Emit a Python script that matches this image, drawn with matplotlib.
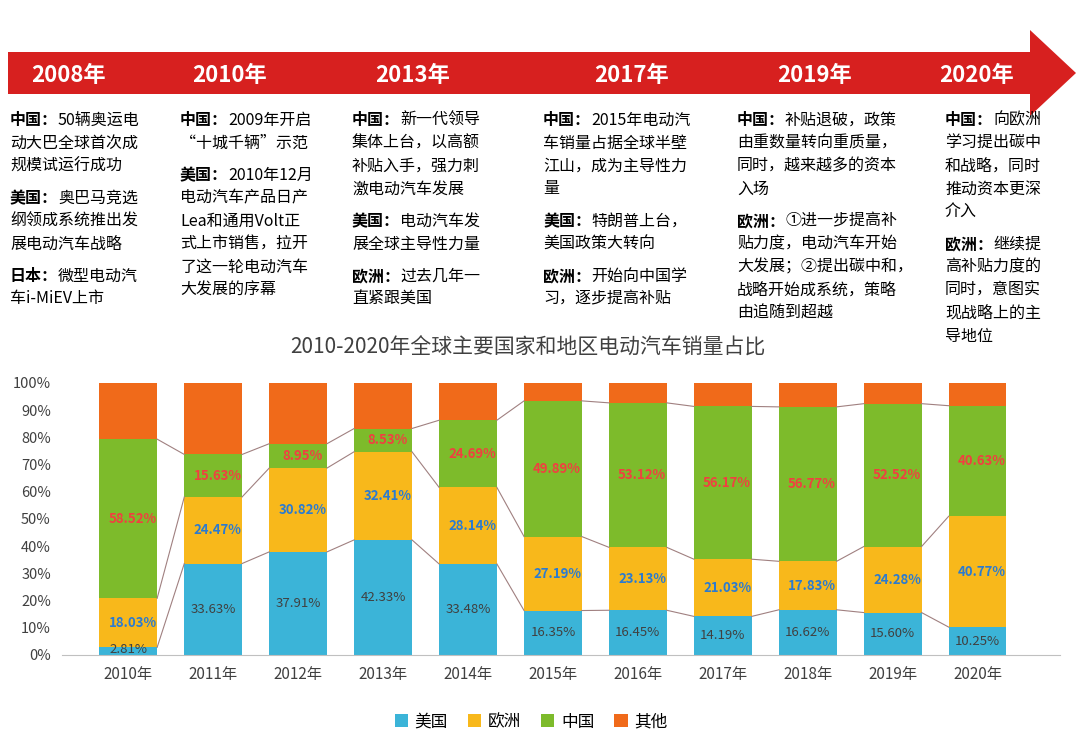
import matplotlib
matplotlib.use("Agg")
import matplotlib.pyplot as plt
from matplotlib.patches import Polygon
import numpy as np

plt.rcParams['font.family'] = ['Noto Sans CJK SC', 'DejaVu Sans']

years = ['2010年', '2011年', '2012年', '2013年', '2014年', '2015年', '2016年', '2017年', '2018年', '2019年', '2020年']
usa = [2.81, 33.63, 37.91, 42.33, 33.48, 16.35, 16.45, 14.19, 16.62, 15.60, 10.25]
europe = [18.03, 24.47, 30.82, 32.41, 28.14, 27.19, 23.13, 21.03, 17.83, 24.28, 40.77]
china = [58.52, 15.63, 8.95, 8.53, 24.69, 49.89, 53.12, 56.17, 56.77, 52.52, 40.63]
other = [100 - a - b - c for a, b, c in zip(usa, europe, china)]

milestones = ['2008年', '2010年', '2013年', '2017年', '2019年', '2020年']
milestone_x = [68, 230, 413, 632, 815, 977]

notes = [
    (10, [('中国：', ['50辆奥运电', '动大巴全球首次成', '规模试运行成功']),
          ('美国：', ['奥巴马竞选', '纲领成系统推出发', '展电动汽车战略']),
          ('日本：', ['微型电动汽', '车i-MiEV上市'])]),
    (180, [('中国：', ['2009年开启', '“十城千辆”示范']),
           ('美国：', ['2010年12月', '电动汽车产品日产', 'Lea和通用Volt正', '式上市销售，拉开', '了这一轮电动汽车', '大发展的序幕'])]),
    (352, [('中国：', ['新一代领导', '集体上台，以高额', '补贴入手，强力刺', '激电动汽车发展']),
           ('美国：', ['电动汽车发', '展全球主导性力量']),
           ('欧洲：', ['过去几年一', '直紧跟美国'])]),
    (543, [('中国：', ['2015年电动汽', '车销量占据全球半壁', '江山，成为主导性力', '量']),
           ('美国：', ['特朗普上台，', '美国政策大转向']),
           ('欧洲：', ['开始向中国学', '习，逐步提高补贴'])]),
    (737, [('中国：', ['补贴退破，政策', '由重数量转向重质量，', '同时，越来越多的资本', '入场']),
           ('欧洲：', ['①进一步提高补', '贴力度，电动汽车开始', '大发展；②提出碳中和，', '战略开始成系统，策略', '由追随到超越'])]),
    (945, [('中国：', ['向欧洲', '学习提出碳中', '和战略，同时', '推动资本更深', '介入']),
           ('欧洲：', ['继续提', '高补贴力度的', '同时，意图实', '现战略上的主', '导地位'])]),
]

W, H = 1080, 755
fig = plt.figure(figsize=(10.8, 7.55), dpi=100)
fig.patch.set_facecolor('white')

def fx(x): return x / W
def fy(y): return 1 - y / H

# red arrow band
arrow = Polygon([(fx(8), fy(52)), (fx(1030), fy(52)), (fx(1030), fy(30)), (fx(1076), fy(73)),
                 (fx(1030), fy(116)), (fx(1030), fy(94)), (fx(8), fy(94))],
                closed=True, transform=fig.transFigure, facecolor='#d7201f', edgecolor='none')
fig.patches.append(arrow)
for label, x in zip(milestones, milestone_x):
    fig.text(fx(x), fy(75), label, color='white', fontsize=16, fontweight='bold',
             ha='center', va='center')

renderer = fig.canvas.get_renderer()
lh = 23
for x0, paras in notes:
    y = 120
    for head, lines in paras:
        t = fig.text(fx(x0), fy(y), head, fontsize=11.5, fontweight='bold', va='center', ha='left')
        w = t.get_window_extent(renderer).width
        fig.text(fx(x0) + w / W, fy(y), lines[0], fontsize=11.5, va='center', ha='left')
        for ln in lines[1:]:
            y += lh
            fig.text(fx(x0), fy(y), ln, fontsize=11.5, va='center', ha='left')
        y += lh + 9

fig.text(fx(528), fy(348), '2010-2020年全球主要国家和地区电动汽车销量占比', fontsize=15,
         color='#404040', ha='center', va='center')

ax = fig.add_axes([fx(62), fy(655), fx(1060) - fx(62), (655 - 383) / H])
x = np.arange(len(years))
bw = 0.68
c_us, c_eu, c_cn, c_ot = '#3bb4d8', '#f8b81b', '#7dbb2b', '#f06a1a'
ax.bar(x, usa, bw, color=c_us, label='美国')
b1 = np.array(usa)
ax.bar(x, europe, bw, bottom=b1, color=c_eu, label='欧洲')
b2 = b1 + np.array(europe)
ax.bar(x, china, bw, bottom=b2, color=c_cn, label='中国')
b3 = b2 + np.array(china)
ax.bar(x, other, bw, bottom=b3, color=c_ot, label='其他')

for lev in (b1, b2, b3):
    for i in range(len(x) - 1):
        ax.plot([x[i] + bw / 2, x[i + 1] - bw / 2], [lev[i], lev[i + 1]],
                color='#a08080', lw=0.8)

for i in range(len(x)):
    ax.text(x[i], usa[i] / 2 if usa[i] > 5 else -0.5, f'{usa[i]:.2f}%',
            ha='center', va='bottom' if usa[i] <= 5 else 'center', fontsize=9.5, color='#404040')
    ax.text(x[i] + 0.05, b1[i] + europe[i] / 2, f'{europe[i]:.2f}%', ha='center', va='center',
            fontsize=9.5, color='#2b7bd0', fontweight='bold')
    ax.text(x[i] + 0.05, b2[i] + china[i] / 2, f'{china[i]:.2f}%', ha='center', va='center',
            fontsize=9.5, color='#f04040', fontweight='bold')

ax.set_xlim(-0.78, len(x) - 0.03)
ax.set_ylim(0, 100)
ax.set_yticks(range(0, 101, 10))
ax.set_yticklabels([f'{v}%' for v in range(0, 101, 10)], fontsize=10.5, color='#404040')
ax.set_xticks(x)
ax.set_xticklabels(years, fontsize=11, color='#404040')
ax.tick_params(length=0, pad=8)
for s in ('top', 'right', 'left'):
    ax.spines[s].set_visible(False)
ax.spines['bottom'].set_color('#c0c0c0')
ax.legend(loc='center', bbox_to_anchor=(0.47, (655 - 722) / (655 - 383)), ncol=4, frameon=False,
          fontsize=12, handlelength=0.8, handleheight=0.8, columnspacing=1.2, handletextpad=0.4)

fig.savefig('out.png', dpi=100)
